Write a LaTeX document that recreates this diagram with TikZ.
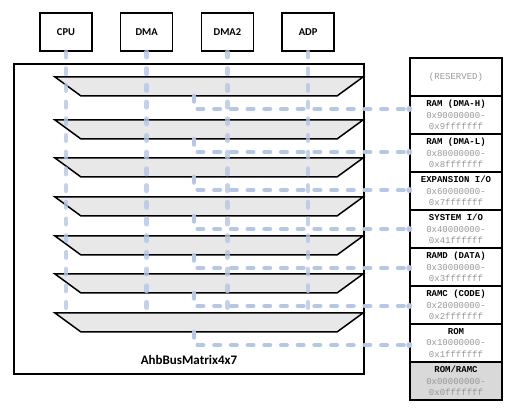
\documentclass[tikz,border=0pt]{standalone}
\usepackage{fontspec}
\usetikzlibrary{calc}
\newfontfamily\labelfont{Carlito}
\newfontfamily\memfont{Liberation Mono}
\definecolor{buscol}{RGB}{180,199,231}
\definecolor{barfill}{RGB}{232,232,232}
\definecolor{romfill}{RGB}{217,217,217}
\definecolor{addrgray}{RGB}{150,150,150}
\tikzstyle{master}=[rectangle,draw=black,line width=1.5pt,minimum width=52pt,minimum height=38pt,font=\labelfont\bfseries\fontsize{10.5}{12}\selectfont]
\tikzstyle{bar}=[draw=black,line width=1.5pt,fill=barfill,line join=miter]
\tikzstyle{region}=[rectangle,draw=black,line width=1.5pt,minimum width=92pt,minimum height=38pt,inner sep=0pt,align=center,font=\memfont\fontsize{9}{11.7}\selectfont]
\tikzstyle{bus}=[buscol,line width=4.5pt,line cap=round,dash pattern=on 5.5pt off 11.2pt]

\begin{document}
\begin{tikzpicture}[x=1pt,y=-1pt]
\def \pitch {80.7};
\def \rowh {38};
\def \barw {154};
\def \inset {26};
\useasboundingbox (0,0) rectangle (512,411);

\node[draw,line width=1.5pt,minimum width=350pt,minimum height=310pt] (busmatrix) at (189,219) {};
\node[font=\labelfont\bfseries\fontsize{13}{15}\selectfont] (title) at (189,360) {AhbBusMatrix4x7};

\foreach \i/\name in {0/CPU,1/DMA,2/DMA2,3/ADP} {
	\node[master] (m\i) at (66 + \i * \pitch, 32) {\name};
};

\foreach \i/\ytop in {1/77,2/120,3/158,4/197,5/236,6/274,7/313} {
	\coordinate (bar\i n) at (209, \ytop);
	\coordinate (bar\i s) at (209, \ytop + 19);
	\draw[bar] ($(bar\i n) + (-\barw,0)$) -- ($(bar\i n) + (\barw,0)$)
		-- ($(bar\i s) + (\barw - \inset,0)$) -- ($(bar\i s) + (-\barw + \inset,0)$) -- cycle;
};

\foreach \i in {0,...,3} {
	\draw[bus,draw opacity=0.8] (m\i.south) -- (m\i.south |- bar7n);
};

\node[region,text=addrgray] (reg0) at (456,77) {(RESERVED)};
\foreach \i/\name/\lo/\hi in {1/RAM (DMA-H)/0x90000000/0x9fffffff,
	2/RAM (DMA-L)/0x80000000/0x8fffffff,
	3/{EXPANSION I/O}/0x60000000/0x7fffffff,
	4/{SYSTEM I/O}/0x40000000/0x41ffffff,
	5/RAMD (DATA)/0x30000000/0x3fffffff,
	6/RAMC (CODE)/0x20000000/0x2fffffff,
	7/ROM/0x10000000/0x1fffffff} {
	\node[region] (reg\i) at (456, 77 + \i * \rowh)
	{\textbf{\name}\\ \textcolor{addrgray}{\lo-}\\ \textcolor{addrgray}{\hi}};
};
\node[region,fill=romfill] (reg8) at (456, 77 + 8 * \rowh)
	{\textbf{ROM/RAMC}\\ \textcolor{addrgray}{0x00000000-}\\ \textcolor{addrgray}{0x0fffffff}};

\foreach \i in {1,...,7} {
	\coordinate (tap\i) at ($(bar\i s) + (-15,13)$);
	\draw[bus] (bar\i s -| tap\i) -- (tap\i) -- (tap\i -| reg\i.west);
	\fill[buscol] (tap\i -| reg\i.west) circle (3pt);
};

\end{tikzpicture}
\end{document}
